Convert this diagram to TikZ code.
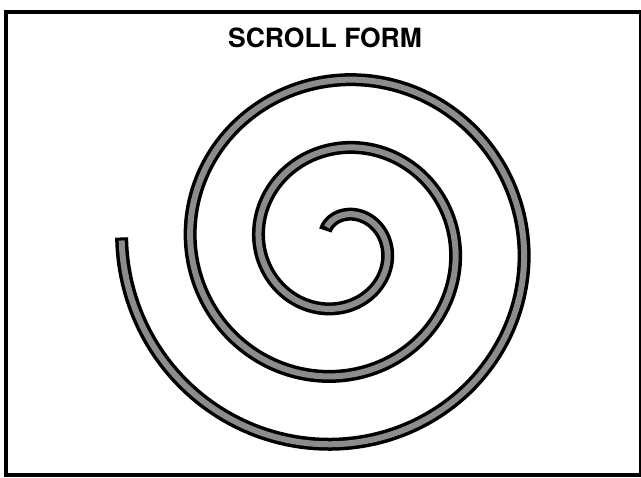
\documentclass[tikz,border=0pt]{standalone}
\usepackage{fontspec}
\setmainfont{TeX Gyre Heros}
\definecolor{coilgray}{gray}{0.55}

\begin{document}
\begin{tikzpicture}[
    x=1pt, y=-1pt,
    frame/.style={draw, line width=3.5pt},
    title/.style={font=\bfseries\fontsize{26.5}{32}\selectfont, inner sep=0pt},
    coilrim/.style={draw=black, line width=13pt, line join=round},
    coilcore/.style={draw=coilgray, line width=6pt, line join=round}
]
\useasboundingbox (0,0) rectangle (641,478);

% Frame and title
\draw[frame] (6,12) rectangle (641,475);
\node[title] (title) at (325,37.5) {SCROLL FORM};

% Spiral: r = 29 + 17 per quarter turn, clockwise from the top
\draw[coilrim] plot[domain=-45:992, samples=500]
    ({340 + 1.01*(29+\x/90*17)*cos(90-\x)}, {245 - (29+\x/90*17)*sin(90-\x)});
\draw[coilcore] plot[domain=-36:991.2, samples=500]
    ({340 + 1.01*(29+\x/90*17)*cos(90-\x)}, {245 - (29+\x/90*17)*sin(90-\x)});
\end{tikzpicture}
\end{document}
